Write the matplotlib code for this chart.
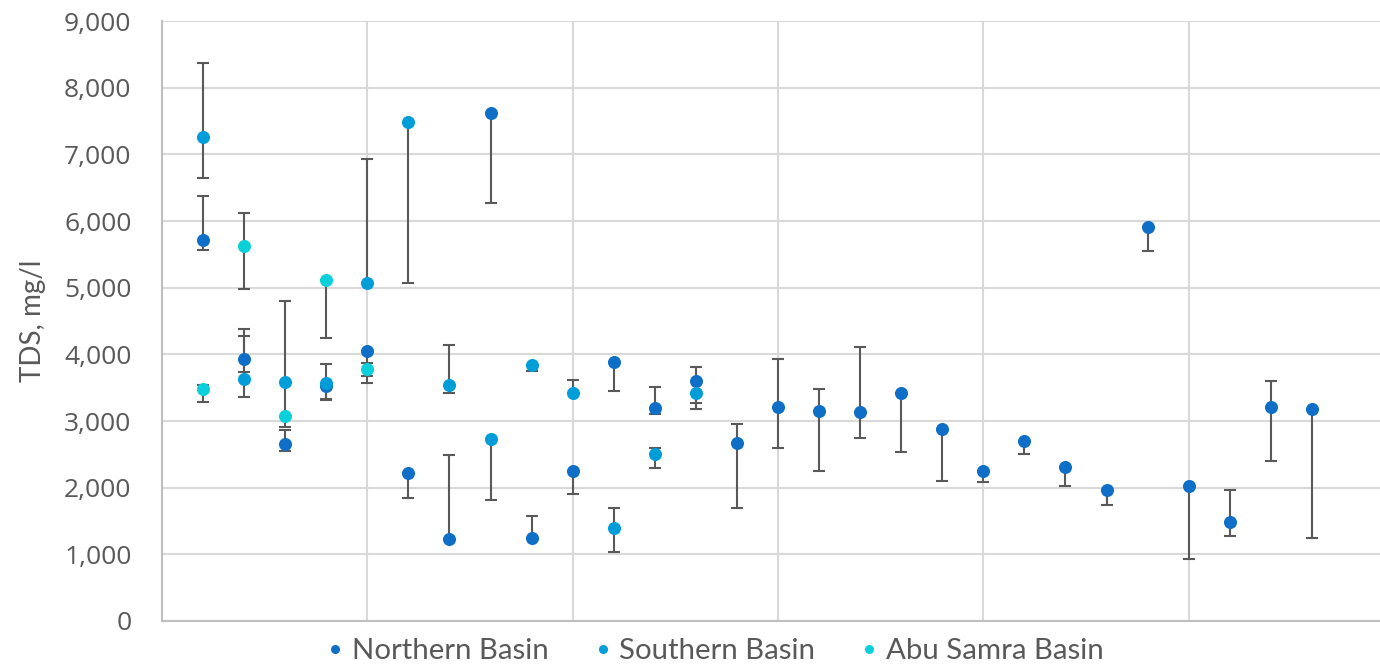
import numpy as np
import matplotlib
matplotlib.use("Agg")
import matplotlib.pyplot as plt
from matplotlib.lines import Line2D
from matplotlib.ticker import FuncFormatter

# well index along the x axis, TDS value and the low/high ends of each bar
north_x = np.arange(1, 29)
north_tds = np.array([5715, 3935, 2660, 3525, 4045, 2225, 1225, 7615, 1250, 2255,
                      3880, 3190, 3595, 2665, 3205, 3155, 3140, 3425, 2885, 2250,
                      2695, 2305, 1960, 5905, 2025, 1490, 3205, 3175])
north_lo = np.array([5560, 3735, 2555, 3315, 3675, 1850, 1225, 6270, 1250, 1905,
                     3455, 3110, 3270, 1700, 2595, 2250, 2750, 2540, 2095, 2085,
                     2505, 2030, 1745, 5555, 930, 1280, 2395, 1240])
north_hi = np.array([6370, 4380, 2865, 3525, 4045, 2225, 2495, 7615, 1580, 2255,
                     3880, 3510, 3805, 2955, 3935, 3485, 4115, 3425, 2885, 2250,
                     2695, 2305, 1960, 5905, 2025, 1970, 3600, 3175])

south_x = np.arange(1, 14)
south_tds = np.array([7255, 3625, 3585, 3575, 5065, 7485, 3535, 2725, 3840, 3425,
                      1400, 2505, 3425])
south_lo = np.array([6650, 3360, 3585, 3335, 5065, 5070, 3425, 1820, 3745, 3425,
                     1040, 2295, 3175])
south_hi = np.array([8365, 4270, 4800, 3850, 6925, 7485, 4145, 2725, 3845, 3615,
                     1690, 2600, 3425])

abu_x = np.arange(1, 6)
abu_tds = np.array([3475, 5630, 3075, 5110, 3785])
abu_lo = np.array([3280, 4980, 2905, 4250, 3575])
abu_hi = np.array([3540, 6125, 3585, 5110, 3865])

names = ["Northern Basin", "Southern Basin", "Abu Samra Basin"]
colors = ["#0F6FC6", "#009DD9", "#0BD0D9"]

fig = plt.figure(figsize=(13.8, 6.68), dpi=100)
ax = fig.add_axes([162 / 1380, 1 - 621 / 668, 1 - 162 / 1380, 600 / 668])

series = [(north_x, north_tds, north_lo, north_hi),
          (south_x, south_tds, south_lo, south_hi),
          (abu_x, abu_tds, abu_lo, abu_hi)]

# error bars sit under all the markers
for x, v, lo, hi in series:
    ax.errorbar(x, v, yerr=[v - lo, hi - v], fmt="none", ecolor="#595959",
                elinewidth=1.5, capsize=4.3, capthick=1.5, zorder=2)
for (x, v, lo, hi), c in zip(series, colors):
    ax.plot(x, v, "o", color=c, markersize=9.4, markeredgewidth=0, zorder=3)

ax.set_xlim(0, 29.66)
ax.set_ylim(0, 9000)
ax.set_xticks(np.arange(0, 30, 5))
ax.set_yticks(np.arange(0, 9001, 1000))
ax.xaxis.set_ticklabels([])
ax.yaxis.set_major_formatter(FuncFormatter(lambda v, p: f"{int(v):,}"))
ax.tick_params(length=0, pad=22)
for lab in ax.get_yticklabels():
    lab.set_fontfamily("Open Sans")
    lab.set_fontsize(19)
    lab.set_color("#595959")
ax.grid(True, color="#D9D9D9", linewidth=1.5)
ax.set_axisbelow(True)
for side in ["top", "right"]:
    ax.spines[side].set_visible(False)
for side in ["left", "bottom"]:
    ax.spines[side].set_color("#BFBFBF")
    ax.spines[side].set_linewidth(1.5)

ax.set_ylabel("TDS, mg/l", family="Lato", fontsize=20, color="#595959", labelpad=13)

handles = [Line2D([], [], marker="o", linestyle="none", color=c, markersize=6.5,
                  markeredgewidth=0) for c in colors]
fig.legend(handles, names, loc="center", bbox_to_anchor=(714 / 1380, 1 - 651 / 668),
           ncol=3, frameon=False, prop={"family": "Lato", "size": 21.2},
           labelcolor="#595959", handletextpad=0.2, columnspacing=1.45,
           handlelength=0.75)

fig.savefig("out.png", dpi=100)
